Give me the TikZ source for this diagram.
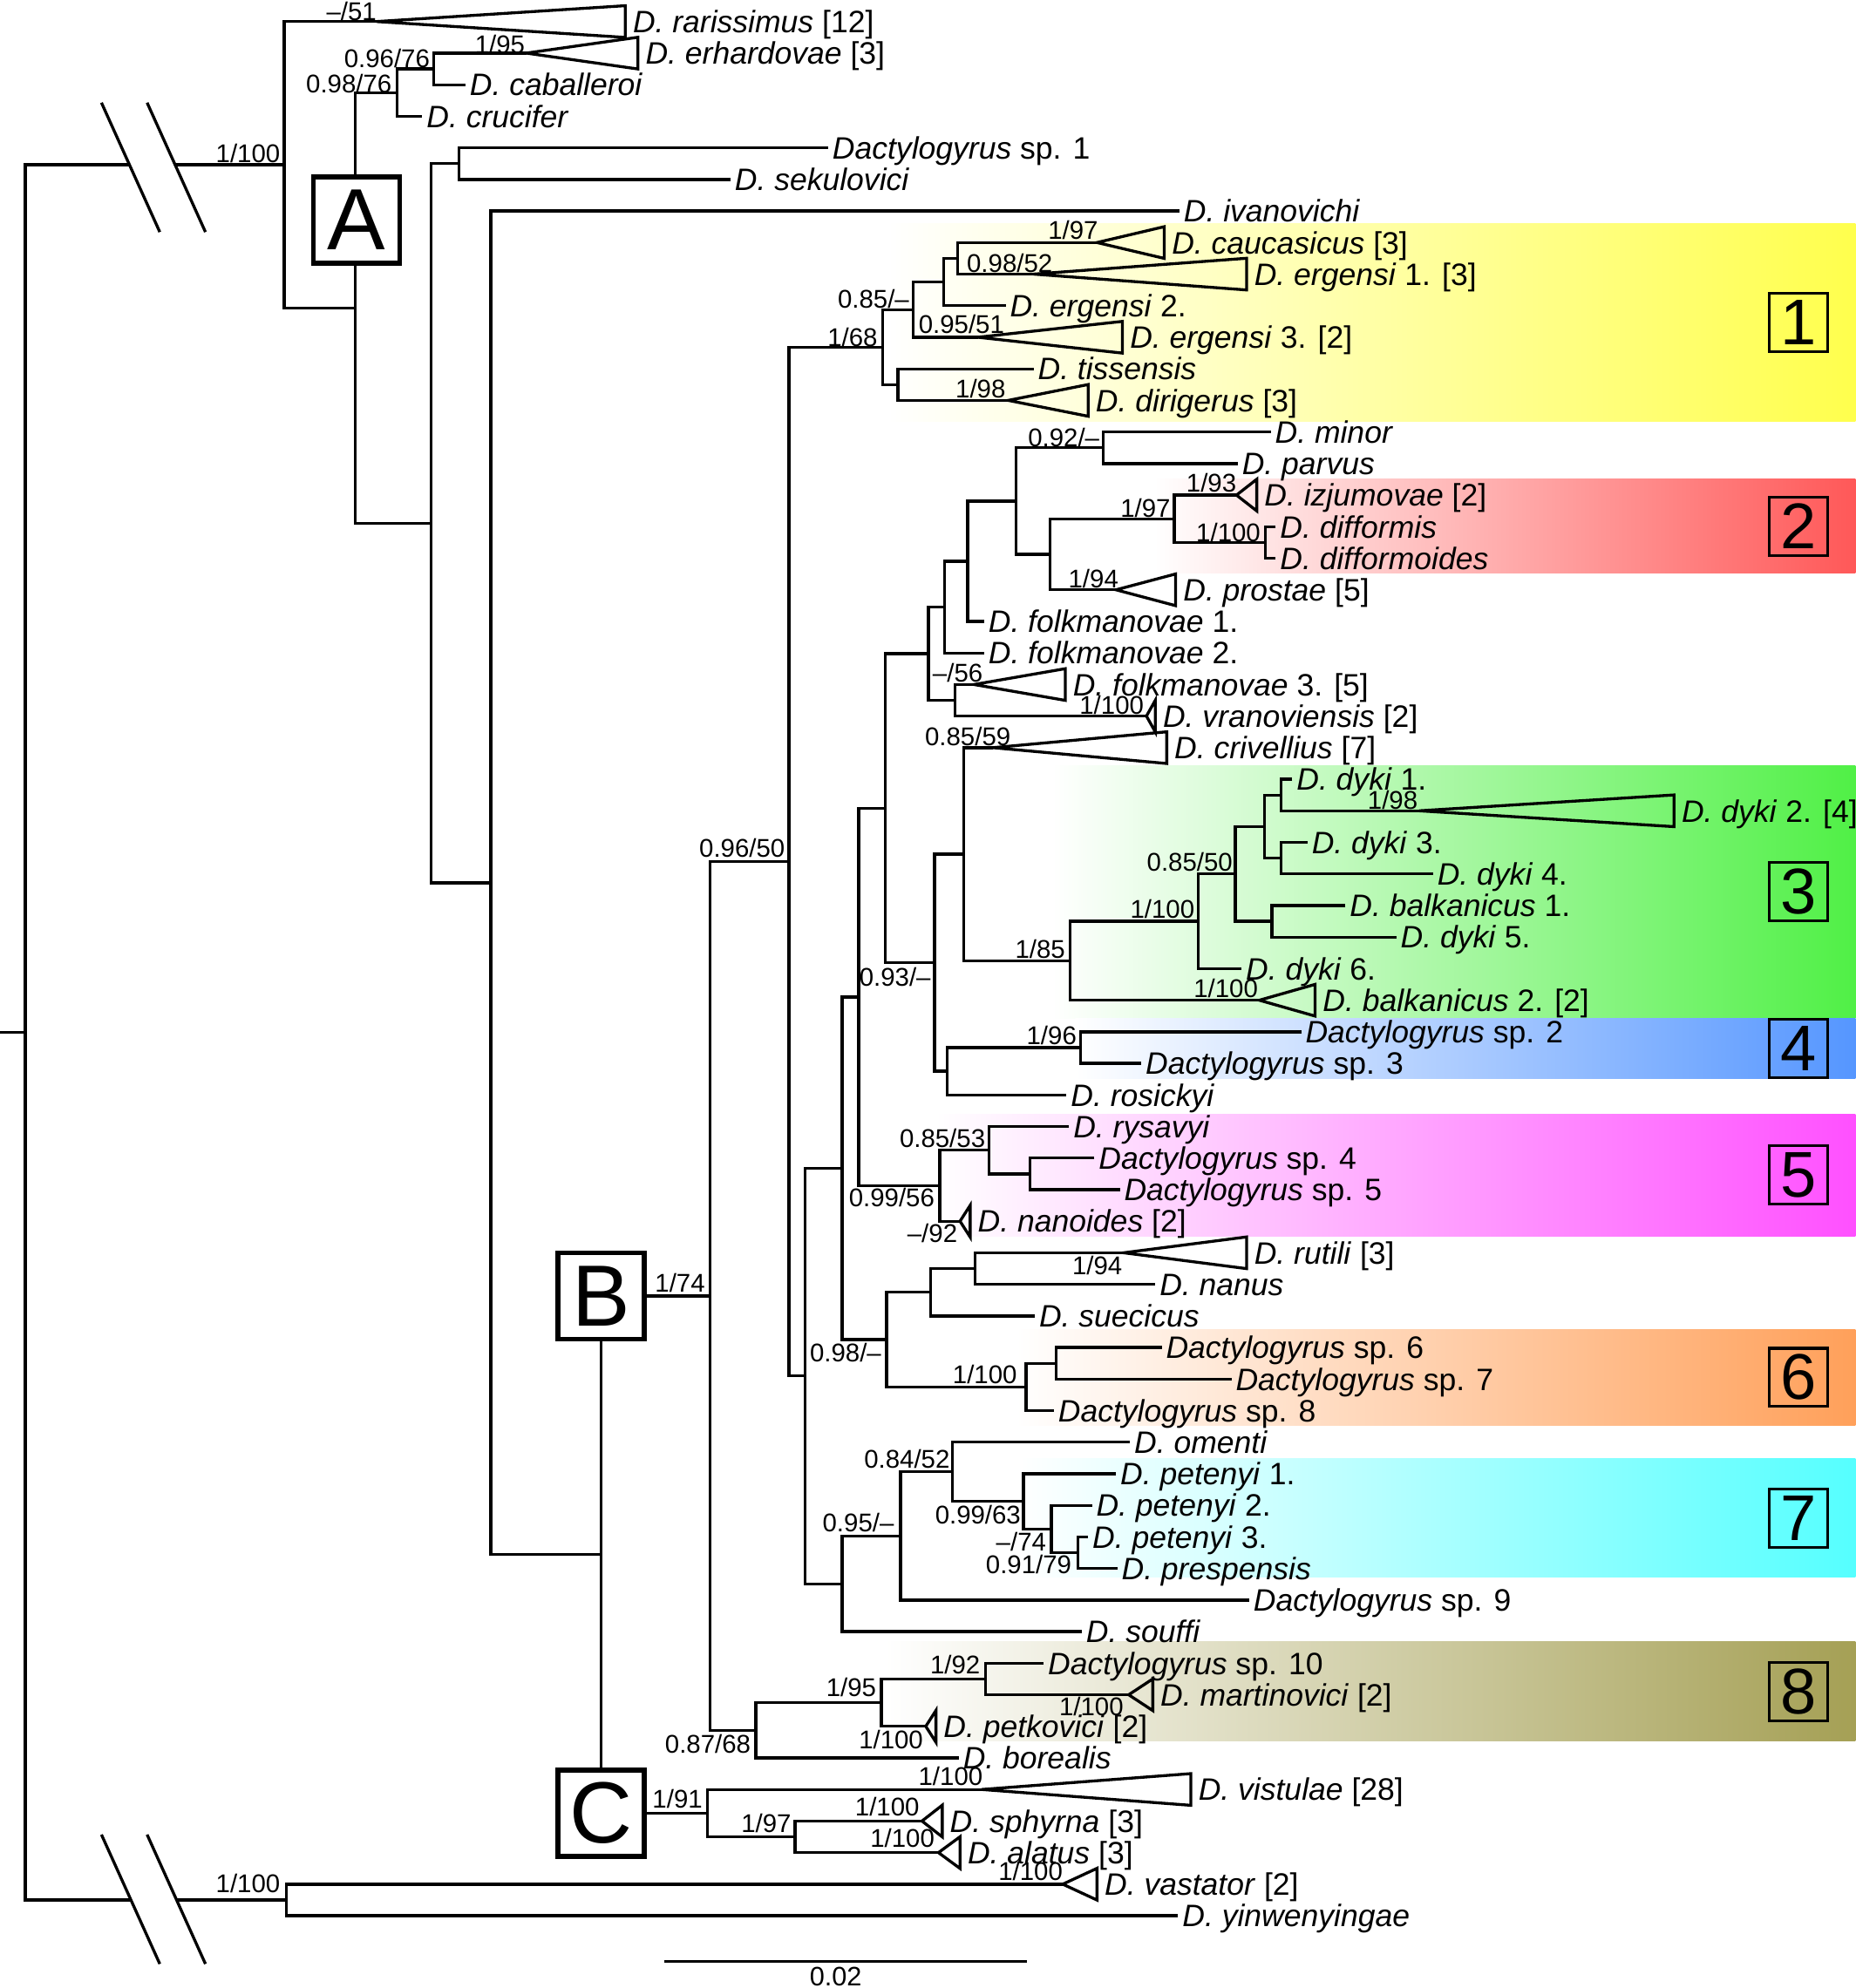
\documentclass[tikz,border=0pt]{standalone}
\usepackage{fontspec}
\setmainfont{Liberation Sans}
\usetikzlibrary{calc}
\definecolor{bandyel}{RGB}{255,255,77}
\definecolor{bandred}{RGB}{255,88,88}
\definecolor{bandgrn}{RGB}{80,240,70}
\definecolor{bandblu}{RGB}{85,150,255}
\definecolor{bandmag}{RGB}{255,80,255}
\definecolor{bandora}{RGB}{255,160,90}
\definecolor{bandcya}{RGB}{85,255,255}
\definecolor{bandolv}{RGB}{165,160,85}
\tikzset{
  taxon/.style={anchor=base west, inner xsep=1.3pt, inner ysep=0pt, yshift=-1.75mm, font=\fontsize{13.9}{15}\selectfont},
  supp/.style={anchor=base east, inner sep=0pt, font=\fontsize{11.5}{12}\selectfont},
  cladebox/.style={draw, line width=2.1pt, fill=white, minimum size=13.6mm, inner sep=0pt, font=\fontsize{39}{39}\selectfont},
  numbox/.style={draw, line width=1.2pt, minimum size=9.2mm, inner sep=0pt, font=\fontsize{29}{29}\selectfont},
}
\begin{document}
\begin{tikzpicture}[x=0.2mm, y=-0.2mm, line width=1.3pt]
\useasboundingbox (0,0) rectangle (1463,1568);
\def\tip#1#2#3#4{
\coordinate (#1) at (#2,{17+(#3-1)*24.9});
\node[taxon] (#1-t) at (#1) {#4};
}
\def\cl#1#2#3#4#5{
\coordinate (#1) at (#2,{17+(#4-1)*24.9});
\draw (#1) -- (#3,{17+(#4-1)*24.9-12.5}) -- (#3,{17+(#4-1)*24.9+12.5}) -- cycle;
\node[taxon, xshift=1.5pt] (#1-t) at (#3,{17+(#4-1)*24.9}) {#5};
}
\def\nd#1#2#3#4{
\coordinate (#1-m) at ($(#3)!0.5!(#4)$);
\coordinate (#1) at (#2,0 |- #1-m);
\draw (#3) -| (#1) |- (#4);
}
\def\bs#1#2#3#4{
\node[supp] (#1) at (#2,#3) {#4};
}
\shade[left color=white, right color=bandyel] (700,176.6) rectangle (1463,332.3);
\shade[left color=white, right color=bandred] (910,378) rectangle (1463,452);
\shade[left color=white, right color=bandgrn] (830,604) rectangle (1463,803);
\shade[left color=white, right color=bandblu] (848,803) rectangle (1463,851);
\shade[left color=white, right color=bandmag] (738,878.6) rectangle (1463,975);
\shade[left color=white, right color=bandora] (801,1048.6) rectangle (1463,1124.2);
\shade[left color=white, right color=bandcya] (804,1150.6) rectangle (1463,1244);
\shade[left color=white, right color=bandolv] (698,1295) rectangle (1463,1373);
\cl{rar}{297}{493}{1}{\textit{D. rarissimus} [12]}
\cl{erh}{415}{503}{2}{\textit{D. erhardovae} [3]}
\tip{cab}{367}{3}{\textit{D. caballeroi}}
\tip{cru}{333}{4}{\textit{D. crucifer}}
\tip{sp1}{653}{5}{\textit{Dactylogyrus} sp. 1}
\tip{sek}{576}{6}{\textit{D. sekulovici}}
\tip{iva}{930}{7}{\textit{D. ivanovichi}}
\cl{cau}{865}{918}{8}{\textit{D. caucasicus} [3]}
\cl{erg1}{815}{983}{9}{\textit{D. ergensi} 1. [3]}
\tip{erg2}{793}{10}{\textit{D. ergensi} 2.}
\cl{erg3}{771}{885}{11}{\textit{D. ergensi} 3. [2]}
\tip{tis}{815}{12}{\textit{D. tissensis}}
\cl{dir}{795}{858}{13}{\textit{D. dirigerus} [3]}
\tip{min}{1002}{14}{\textit{D. minor}}
\tip{par}{976}{15}{\textit{D. parvus}}
\cl{izj}{975}{991}{16}{\textit{D. izjumovae} [2]}
\tip{dif}{1006}{17}{\textit{D. difformis}}
\tip{difm}{1006}{18}{\textit{D. difformoides}}
\cl{pro}{880}{927}{19}{\textit{D. prostae} [5]}
\tip{fol1}{776}{20}{\textit{D. folkmanovae} 1.}
\tip{fol2}{776}{21}{\textit{D. folkmanovae} 2.}
\cl{fol3}{768}{840}{22}{\textit{D. folkmanovae} 3. [5]}
\cl{vra}{904}{911}{23}{\textit{D. vranoviensis} [2]}
\cl{cri}{783}{920}{24}{\textit{D. crivellius} [7]}
\tip{dy1}{1019}{25}{\textit{D. dyki} 1.}
\cl{dy2}{1119}{1320}{26}{\textit{D. dyki} 2. [4]}
\tip{dy3}{1031}{27}{\textit{D. dyki} 3.}
\tip{dy4}{1130}{28}{\textit{D. dyki} 4.}
\tip{bal1}{1061}{29}{\textit{D. balkanicus} 1.}
\tip{dy5}{1101}{30}{\textit{D. dyki} 5.}
\tip{dy6}{979}{31}{\textit{D. dyki} 6.}
\cl{bal2}{993}{1037}{32}{\textit{D. balkanicus} 2. [2]}
\tip{sp2}{1026}{33}{\textit{Dactylogyrus} sp. 2}
\tip{sp3}{900}{34}{\textit{Dactylogyrus} sp. 3}
\tip{ros}{841}{35}{\textit{D. rosickyi}}
\tip{rys}{843}{36}{\textit{D. rysavyi}}
\tip{sp4}{863}{37}{\textit{Dactylogyrus} sp. 4}
\tip{sp5}{883}{38}{\textit{Dactylogyrus} sp. 5}
\cl{nan}{757}{765}{39}{\textit{D. nanoides} [2]}
\cl{rut}{886}{983}{40}{\textit{D. rutili} [3]}
\tip{nanus}{911}{41}{\textit{D. nanus}}
\tip{sue}{816}{42}{\textit{D. suecicus}}
\tip{sp6}{916}{43}{\textit{Dactylogyrus} sp. 6}
\tip{sp7}{971}{44}{\textit{Dactylogyrus} sp. 7}
\tip{sp8}{831}{45}{\textit{Dactylogyrus} sp. 8}
\tip{ome}{891}{46}{\textit{D. omenti}}
\tip{pet1}{880}{47}{\textit{D. petenyi} 1.}
\tip{pet2}{861}{48}{\textit{D. petenyi} 2.}
\tip{pet3}{858}{49}{\textit{D. petenyi} 3.}
\tip{pre}{881}{50}{\textit{D. prespensis}}
\tip{sp9}{985}{51}{\textit{Dactylogyrus} sp. 9}
\tip{sou}{853}{52}{\textit{D. souffi}}
\tip{sp10}{823}{53}{\textit{Dactylogyrus} sp. 10}
\cl{mar}{890}{909}{54}{\textit{D. martinovici} [2]}
\cl{pet}{730}{738}{55}{\textit{D. petkovici} [2]}
\tip{bor}{756}{56}{\textit{D. borealis}}
\cl{vis}{774}{939}{57}{\textit{D. vistulae} [28]}
\cl{sph}{727}{743}{58}{\textit{D. sphyrna} [3]}
\cl{ala}{740}{757}{59}{\textit{D. alatus} [3]}
\cl{vas}{838}{865}{60}{\textit{D. vastator} [2]}
\tip{yin}{929}{61}{\textit{D. yinwenyingae}}
\nd{nOut}{226}{vas}{yin}
\nd{n9676}{342}{erh}{cab}
\nd{n9876}{313}{n9676}{cru}
\nd{nSp1}{362}{sp1}{sek}
\nd{n9852}{755}{cau}{erg1}
\nd{n744}{744}{n9852}{erg2}
\nd{n8551}{720}{n744}{erg3}
\nd{n708}{708}{tis}{dir}
\nd{n168}{696}{n8551}{n708}
\nd{n92}{870}{min}{par}
\nd{n1100a}{998}{dif}{difm}
\nd{n197a}{926}{izj}{n1100a}
\nd{n828}{828}{n197a}{pro}
\nd{n802}{801}{n92}{n828}
\nd{n763}{763}{n802}{fol1}
\nd{n745}{745}{n763}{fol2}
\nd{n56}{753}{fol3}{vra}
\nd{n732}{732}{n745}{n56}
\nd{n1010a}{1010}{dy1}{dy2}
\nd{n1010b}{1010}{dy3}{dy4}
\nd{n1000}{997}{n1010a}{n1010b}
\nd{n1003}{1003}{bal1}{dy5}
\nd{n8550}{974}{n1000}{n1003}
\nd{n1100b}{945}{n8550}{dy6}
\nd{n185}{844}{n1100b}{bal2}
\nd{n760}{760}{cri}{n185}
\nd{n196}{852}{sp2}{sp3}
\nd{n747}{747}{n196}{ros}
\nd{n93}{737}{n760}{n747}
\nd{n698a}{698}{n732}{n93}
\nd{n811}{812}{sp4}{sp5}
\nd{n8553}{780}{rys}{n811}
\nd{n9956}{741}{n8553}{nan}
\nd{n677}{677}{n698a}{n9956}
\nd{n194}{769}{rut}{nanus}
\nd{n735}{734}{n194}{sue}
\nd{n67}{833}{sp6}{sp7}
\nd{n1100c}{809}{n67}{sp8}
\nd{n98}{699}{n735}{n1100c}
\nd{n664a}{664}{n677}{n98}
\nd{n9179}{850}{pet3}{pre}
\nd{n74}{829}{pet2}{n9179}
\nd{n9963}{807}{pet1}{n74}
\nd{n8452}{751}{ome}{n9963}
\nd{n95}{710}{n8452}{sp9}
\nd{n664b}{664}{n95}{sou}
\nd{n635}{635}{n664a}{n664b}
\nd{n9650}{622}{n168}{n635}
\nd{n192}{777}{sp10}{mar}
\nd{n195}{695}{n192}{pet}
\nd{n8768}{596}{n195}{bor}
\nd{nB}{560}{n9650}{n8768}
\nd{n197c}{627}{sph}{ala}
\nd{nC}{558}{vis}{n197c}
\nd{nBC}{474}{nB}{nC}
\nd{n387}{387}{iva}{nBC}
\nd{n340}{340}{nSp1}{n387}
\nd{nA2}{280}{n9876}{n340}
\nd{nIn}{224}{rar}{nA2}
\coordinate (root-m) at ($(nIn)!0.5!(nOut)$);
\coordinate (root) at (20,0 |- root-m);
\coordinate (tick) at (0,0 |- root);
\coordinate (brk1) at (102,0 |- nIn);
\coordinate (brk2) at (138,0 |- nIn);
\coordinate (brk3) at (103,0 |- nOut);
\coordinate (brk4) at (139,0 |- nOut);
\draw (tick) -- (root);
\draw (brk1) -| (root) |- (brk3);
\draw (brk2) -- (nIn);
\draw (brk4) -- (nOut);
\draw (80,81) -- (126,183) (116,81) -- (162,183);
\draw (80,1447) -- (126,1549) (116,1447) -- (162,1549);
\bs{s-rar}{298}{16}{–/51}
\bs{s-erh}{415}{42}{1/95}
\bs{s-n9676}{340}{53}{0.96/76}
\bs{s-n9876}{310}{73}{0.98/76}
\bs{s-nIn}{222}{128}{1/100}
\bs{s-cau}{867}{189}{1/97}
\bs{s-n9852}{831}{215}{0.98/52}
\bs{s-n8551}{718}{243}{0.85/–}
\bs{s-erg3}{793}{263}{0.95/51}
\bs{s-n168}{693}{273}{1/68}
\bs{s-dir}{794}{314}{1/98}
\bs{s-n92}{868}{352}{0.92/–}
\bs{s-izj}{976}{388}{1/93}
\bs{s-n197a}{924}{408}{1/97}
\bs{s-n1100a}{995}{427}{1/100}
\bs{s-pro}{883}{464}{1/94}
\bs{s-n56}{776}{538}{–/56}
\bs{s-vra}{903}{563}{1/100}
\bs{s-cri}{798}{588}{0.85/59}
\bs{s-n9650}{620}{676}{0.96/50}
\bs{s-dy2}{1119}{638}{1/98}
\bs{s-n8550}{973}{687}{0.85/50}
\bs{s-n1100b}{943}{724}{1/100}
\bs{s-n185}{841}{756}{1/85}
\bs{s-n93}{735}{778}{0.93/–}
\bs{s-bal2}{993}{787}{1/100}
\bs{s-n196}{850}{824}{1/96}
\bs{s-n8553}{778}{905}{0.85/53}
\bs{s-n9956}{738}{952}{0.99/56}
\bs{s-nan}{756}{980}{–/92}
\bs{s-rut}{886}{1005}{1/94}
\bs{s-nB}{557}{1019}{1/74}
\bs{s-n98}{696}{1074}{0.98/–}
\bs{s-n1100c}{803}{1091}{1/100}
\bs{s-n8452}{750}{1158}{0.84/52}
\bs{s-n9963}{806}{1202}{0.99/63}
\bs{s-n95}{706}{1208}{0.95/–}
\bs{s-n74}{826}{1223}{–/74}
\bs{s-n9179}{846}{1241}{0.91/79}
\bs{s-n192}{774}{1320}{1/92}
\bs{s-n195}{692}{1338}{1/95}
\bs{s-mar}{887}{1353}{1/100}
\bs{s-pet}{729}{1379}{1/100}
\bs{s-n8768}{593}{1383}{0.87/68}
\bs{s-vis}{776}{1408}{1/100}
\bs{s-nC}{555}{1426}{1/91}
\bs{s-sph}{726}{1432}{1/100}
\bs{s-n197c}{625}{1445}{1/97}
\bs{s-ala}{738}{1457}{1/100}
\bs{s-vas}{839}{1483}{1/100}
\bs{s-nOut}{222}{1493}{1/100}
\node[cladebox] (boxA) at (281,173.5) {A};
\node[cladebox] (boxB) at (nBC |- nB) {B};
\node[cladebox] (boxC) at (nBC |- nC) {C};
\node[numbox] (box1) at (1418,254.5) {1};
\node[numbox] (box2) at (1418,415) {2};
\node[numbox] (box3) at (1418,703.5) {3};
\node[numbox] (box4) at (1418,827) {4};
\node[numbox] (box5) at (1418,926.8) {5};
\node[numbox] (box6) at (1418,1086.4) {6};
\node[numbox] (box7) at (1418,1197.3) {7};
\node[numbox] (box8) at (1418,1334) {8};
\coordinate (sb-a) at (524,1547);
\coordinate (sb-b) at (810,1547);
\draw (sb-a) -- (sb-b);
\node[font=\fontsize{12}{12}\selectfont] (sb-l) at (659,1559) {0.02};
\end{tikzpicture}
\end{document}
